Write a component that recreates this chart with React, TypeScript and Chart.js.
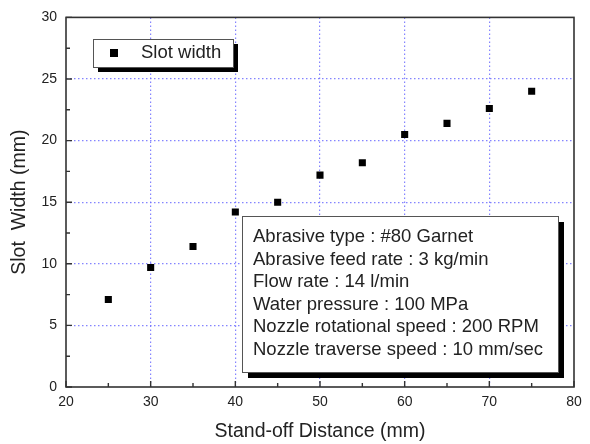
import React, { useEffect, useRef } from "react";
import { Chart, registerables } from "chart.js";

Chart.register(...registerables);

const standOff = [25, 30, 35, 40, 45, 50, 55, 60, 65, 70, 75];
const slotWidth = [7.1, 9.7, 11.4, 14.2, 15.0, 17.2, 18.2, 20.5, 21.4, 22.6, 24.0];
const seriesLabel = "Slot width";
const infoLines = [
  "Abrasive type : #80 Garnet",
  "Abrasive feed rate : 3 kg/min",
  "Flow rate : 14 l/min",
  "Water pressure : 100 MPa",
  "Nozzle rotational speed : 200 RPM",
  "Nozzle traverse speed : 10 mm/sec",
];
const xTitle = "Stand-off Distance (mm)";
const yTitle = "Slot  Width (mm)";

const FONT = "'Liberation Sans', Arial, sans-serif";

const framePlugin = {
  id: "framePlugin",
  afterDatasetsDraw(chart: any) {
    const { ctx, chartArea, scales } = chart;
    const { left, right, top, bottom } = chartArea;
    const xs = scales.x;
    const ys = scales.y;
    ctx.save();
    // frame
    ctx.strokeStyle = "#333";
    ctx.lineWidth = 1.6;
    ctx.strokeRect(left, top, right - left, bottom - top);
    // inward ticks
    ctx.lineWidth = 1.4;
    ctx.beginPath();
    for (let v = 20; v <= 80; v += 5) {
      const px = xs.getPixelForValue(v);
      const len = v % 10 === 0 ? 6 : 4;
      ctx.moveTo(px, bottom);
      ctx.lineTo(px, bottom - len);
    }
    for (let v = 0; v <= 30; v += 2.5) {
      const py = ys.getPixelForValue(v);
      const len = v % 5 === 0 ? 6 : 4;
      ctx.moveTo(left, py);
      ctx.lineTo(left + len, py);
    }
    ctx.stroke();

    // legend box
    const lx = 93, ly = 39, lw = 140, lh = 28, sh = 5;
    ctx.fillStyle = "#000";
    ctx.fillRect(lx + sh, ly + sh, lw, lh);
    ctx.fillStyle = "#fff";
    ctx.fillRect(lx, ly, lw, lh);
    ctx.strokeStyle = "#555";
    ctx.lineWidth = 1;
    ctx.strokeRect(lx + 0.5, ly + 0.5, lw, lh);
    ctx.fillStyle = "#000";
    ctx.fillRect(110, 49, 8, 8);
    ctx.fillStyle = "#222";
    ctx.font = `18.5px ${FONT}`;
    ctx.textBaseline = "middle";
    ctx.textAlign = "left";
    ctx.fillText(seriesLabel, 141, 53);

    // info box
    const bx = 242, by = 216, bw = 316, bh = 156, bs = 6;
    ctx.fillStyle = "#000";
    ctx.fillRect(bx + bs, by + bs, bw, bh);
    ctx.fillStyle = "#fff";
    ctx.fillRect(bx, by, bw, bh);
    ctx.strokeStyle = "#555";
    ctx.strokeRect(bx + 0.5, by + 0.5, bw, bh);
    ctx.fillStyle = "#222";
    ctx.font = `18.5px ${FONT}`;
    infoLines.forEach((line, i) => {
      ctx.fillText(line, 253, 237 + i * 22.6);
    });
    ctx.restore();
  },
};

export default function App() {
  const ref = useRef<HTMLCanvasElement>(null);
  useEffect(() => {
    if (!ref.current) return;
    const gridColor = "rgba(110,110,255,0.85)";
    const chart = new Chart(ref.current, {
      type: "scatter",
      data: {
        datasets: [
          {
            label: seriesLabel,
            data: standOff.map((x, i) => ({ x, y: slotWidth[i] })),
            pointStyle: "rect",
            pointRadius: 5,
            pointHoverRadius: 5,
            backgroundColor: "#000",
            borderColor: "#000",
            borderWidth: 0,
          },
        ],
      },
      options: {
        animation: false,
        responsive: true,
        maintainAspectRatio: false,
        layout: { padding: { top: 13, right: 16, left: 0, bottom: 0 } },
        plugins: {
          legend: { display: false },
          tooltip: { enabled: false },
        },
        scales: {
          x: {
            type: "linear",
            min: 20,
            max: 80,
            ticks: {
              stepSize: 10,
              padding: 7,
              color: "#222",
              font: { family: FONT, size: 14 },
            },
            grid: {
              drawTicks: false,
              lineWidth: 1.2,
              color: (c: any) => {
                const v = c.tick && c.tick.value;
                return v === 20 || v === 80 ? "rgba(0,0,0,0)" : gridColor;
              },
            },
            border: { display: false, dash: [1.5, 2.5] },
            title: {
              display: true,
              text: xTitle,
              color: "#222",
              font: { family: FONT, size: 19.5 },
              padding: { top: 0, bottom: 1 },
            },
            afterFit: (s: any) => {
              s.height = 57;
            },
          },
          y: {
            type: "linear",
            min: 0,
            max: 30,
            ticks: {
              stepSize: 5,
              padding: 9,
              color: "#222",
              font: { family: FONT, size: 14 },
            },
            grid: {
              drawTicks: false,
              lineWidth: 1.2,
              color: (c: any) => {
                const v = c.tick && c.tick.value;
                return v === 0 || v === 30 ? "rgba(0,0,0,0)" : gridColor;
              },
            },
            border: { display: false, dash: [1.5, 2.5] },
            title: {
              display: true,
              text: yTitle,
              color: "#222",
              font: { family: FONT, size: 19.5 },
              padding: { top: 8, bottom: 0 },
            },
            afterFit: (s: any) => {
              s.width = 66;
            },
          },
        },
      },
      plugins: [framePlugin],
    });
    return () => chart.destroy();
  }, []);
  return (
    <div style={{ position: "absolute", left: 0, top: 0, width: 590, height: 444, background: "#fff" }}>
      <canvas ref={ref} />
    </div>
  );
}
